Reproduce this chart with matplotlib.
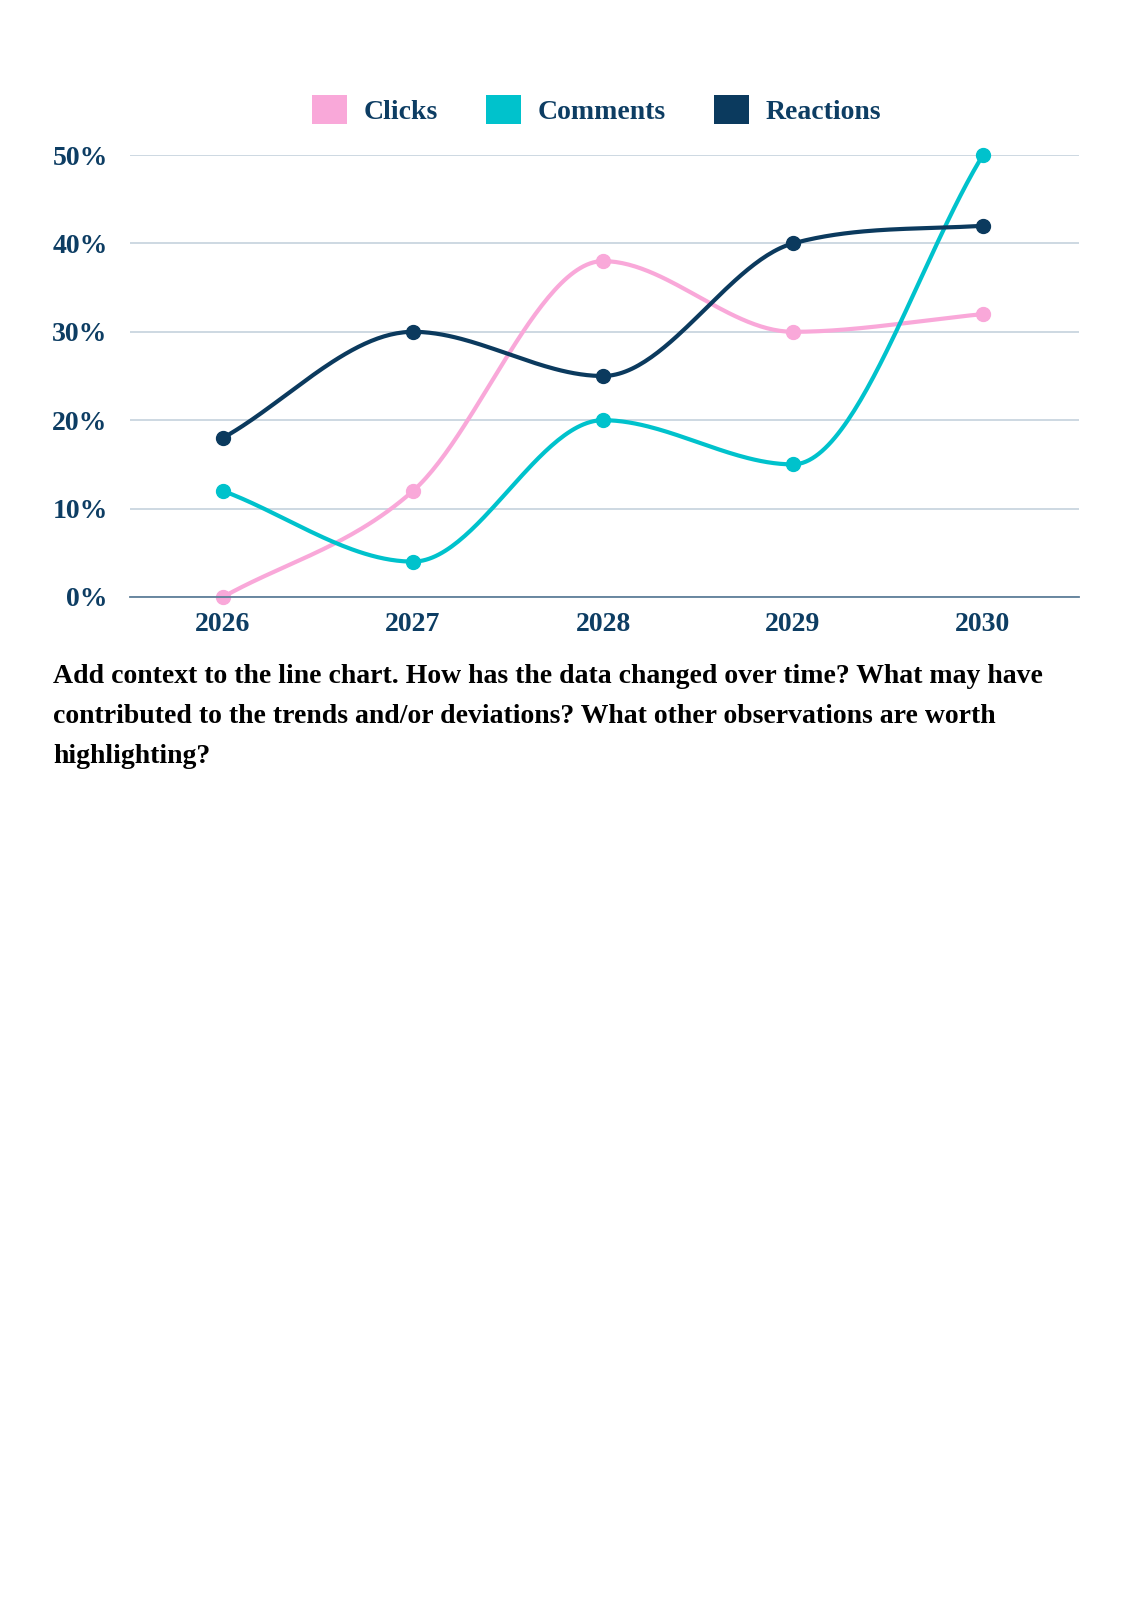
import numpy as np
import matplotlib
matplotlib.use("Agg")
import matplotlib.pyplot as plt
from matplotlib.patches import Patch
from matplotlib.ticker import FuncFormatter

years = ["2026", "2027", "2028", "2029", "2030"]
clicks = [0, 12, 38, 30, 32]
comments = [12, 4, 20, 15, 50]
reactions = [18, 30, 25, 40, 42]
series_names = ["Clicks", "Comments", "Reactions"]
yticks = [0, 10, 20, 30, 40, 50]

colors = ["#f9a8d9", "#00c2cc", "#0b3a5e"]
text_color = "#0d3d63"
plt.rcParams['font.family'] = ['Liberation Serif', 'DejaVu Serif']


def monotone(x, y, n=60):
    x = np.asarray(x, float); y = np.asarray(y, float)
    h = np.diff(x); d = np.diff(y) / h
    m = np.zeros_like(y)
    m[0] = d[0]; m[-1] = d[-1]
    for i in range(1, len(y) - 1):
        m[i] = 0 if d[i-1] * d[i] <= 0 else (d[i-1] + d[i]) / 2
    for i in range(len(d)):
        if d[i] == 0:
            m[i] = m[i+1] = 0
            continue
        a = m[i] / d[i]; b = m[i+1] / d[i]
        s = a * a + b * b
        if s > 9:
            t = 3 / np.sqrt(s)
            m[i] = t * a * d[i]; m[i+1] = t * b * d[i]
    xs, ys = [], []
    for i in range(len(d)):
        t = np.linspace(0, 1, n)
        h00 = 2*t**3 - 3*t**2 + 1; h10 = t**3 - 2*t**2 + t
        h01 = -2*t**3 + 3*t**2; h11 = t**3 - t**2
        xs.append(x[i] + t*h[i]); ys.append(h00*y[i] + h10*h[i]*m[i] + h01*y[i+1] + h11*h[i]*m[i+1])
    return np.concatenate(xs), np.concatenate(ys)


fig = plt.figure(figsize=(11.32, 16), dpi=100)
ax = fig.add_axes([0.1148, 0.6269, 0.8383, 0.2762])
xi = np.arange(len(years))
for vals, c in zip([clicks, comments, reactions], colors):
    sx, sy = monotone(xi, vals)
    ax.plot(sx, sy, color=c, lw=3, clip_on=False, solid_capstyle='round')
    ax.plot(xi, vals, 'o', color=c, ms=10, clip_on=False)

ax.set_xlim(-0.49, 4.505)
ax.set_ylim(0, 50)
ax.set_yticks(yticks)
ax.yaxis.set_major_formatter(FuncFormatter(lambda v, p: f"{int(v)}%"))
ax.set_xticks(xi)
ax.set_xticklabels(years)
ax.grid(axis='y', color='#c9d5df', lw=1.3)
ax.set_axisbelow(True)
for s in ['top', 'right', 'left']:
    ax.spines[s].set_visible(False)
ax.spines['bottom'].set_color('#5f7f99')
ax.spines['bottom'].set_linewidth(1.3)
ax.tick_params(length=0, labelsize=20, labelcolor=text_color)
ax.tick_params(axis='y', pad=16)
ax.tick_params(axis='x', pad=11)
for lab in ax.get_xticklabels() + ax.get_yticklabels():
    lab.set_fontweight('bold')

handles = [Patch(facecolor=c, edgecolor='none') for c in colors]
leg = fig.legend(handles, series_names, loc='center', bbox_to_anchor=(0.527, 0.9315),
                 ncol=3, frameon=False, fontsize=20, handlelength=1.25, handleheight=1.25,
                 columnspacing=1.75, handletextpad=0.6)
for t in leg.get_texts():
    t.set_color(text_color); t.set_fontweight('bold')

fig.text(0.047, 0.585,
         "Add context to the line chart. How has the data changed over time? What may have\n"
         "contributed to the trends and/or deviations? What other observations are worth\n"
         "highlighting?",
         ha='left', va='top', fontsize=20, fontweight='bold', color='black', linespacing=1.8)

fig.savefig("out.png", dpi=100, facecolor='white')
